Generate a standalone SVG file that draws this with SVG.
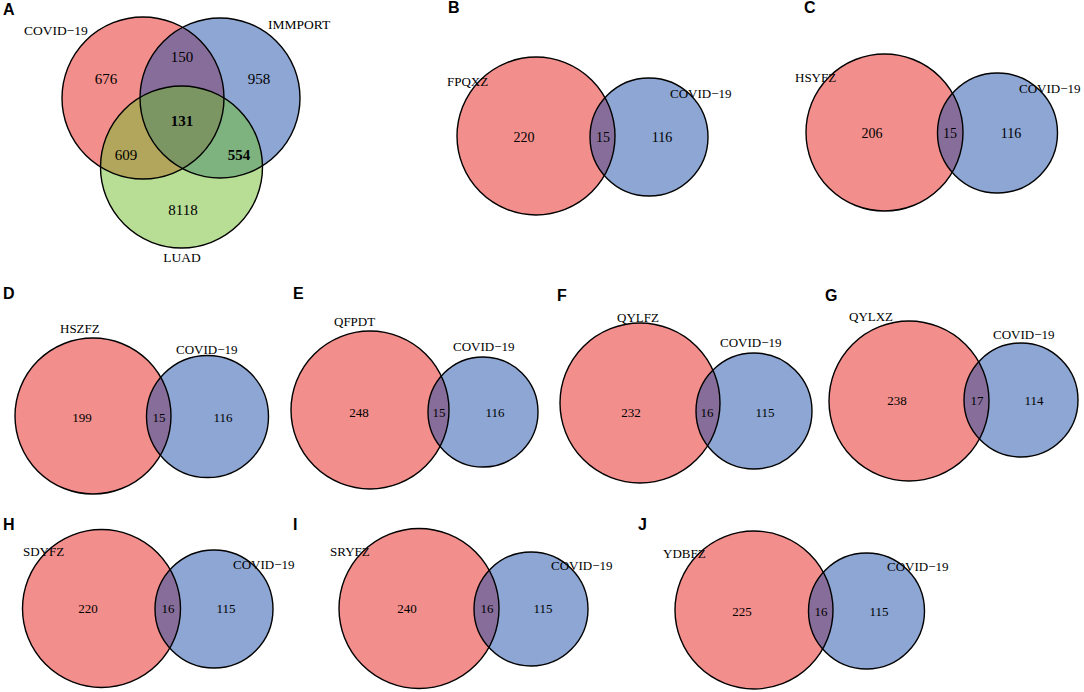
<svg xmlns="http://www.w3.org/2000/svg" width="1084" height="692" viewBox="0 0 1084 692">
<style>
.r{fill:#E51D19;fill-opacity:0.5}
.b{fill:#1B4DA7;fill-opacity:0.5}
.g{fill:#6FBD29;fill-opacity:0.5}
.o{fill:none;stroke:#000;stroke-width:1.4}
text{font-family:"Liberation Serif","Times New Roman",serif;fill:#000}
.n{font-size:13px;text-anchor:middle}
.nb{font-size:14px;text-anchor:middle}
.na{font-size:15px;text-anchor:middle}
.l{font-size:13px}
.la{font-size:13.5px}
.p{font-family:"Liberation Sans",Arial,sans-serif;font-weight:bold;font-size:16px}
.bold{font-weight:bold}
</style>
<rect width="1084" height="692" fill="#fff"/>

<g id="panelA">
<text class="p" x="3" y="15">A</text>
<g id="A-COVID"><circle class="r" cx="143" cy="98" r="81"/></g>
<g id="A-IMMPORT"><circle class="b" cx="220" cy="98" r="80"/></g>
<g id="A-LUAD"><circle class="g" cx="181.5" cy="167" r="81"/></g>
<circle class="o" cx="143" cy="98" r="81"/>
<circle class="o" cx="220" cy="98" r="80"/>
<circle class="o" cx="181.5" cy="167" r="81"/>
<text class="la" x="24" y="35">COVID−19</text>
<text class="la" x="268" y="29">IMMPORT</text>
<text class="la" x="182" y="262" text-anchor="middle">LUAD</text>
<text class="na" x="106" y="84">676</text>
<text class="na" x="182" y="62">150</text>
<text class="na" x="259" y="84">958</text>
<text class="na bold" x="182" y="126">131</text>
<text class="na" x="126" y="160">609</text>
<text class="na bold" x="239" y="160">554</text>
<text class="na" x="183" y="215">8118</text>
</g>

<g id="panelB">
<text class="p" x="448" y="13">B</text>
<g id="B-FPQXZ"><circle class="r" cx="536" cy="136" r="79"/></g>
<g id="B-COVID"><circle class="b" cx="649" cy="137" r="59"/></g>
<circle class="o" cx="536" cy="136" r="79"/>
<circle class="o" cx="649" cy="137" r="59"/>
<text class="l" x="447" y="86">FPQXZ</text>
<text class="l" x="670" y="98">COVID−19</text>
<text class="nb" x="524" y="142">220</text>
<text class="nb" x="603" y="142">15</text>
<text class="nb" x="662" y="142">116</text>
</g>

<g id="panelC">
<text class="p" x="804" y="13">C</text>
<g id="C-HSYFZ"><circle class="r" cx="884.5" cy="132.5" r="78.5"/></g>
<g id="C-COVID"><circle class="b" cx="997.5" cy="133" r="60"/></g>
<circle class="o" cx="884.5" cy="132.5" r="78.5"/>
<circle class="o" cx="997.5" cy="133" r="60"/>
<text class="l" x="795" y="82">HSYFZ</text>
<text class="l" x="1019" y="93">COVID−19</text>
<text class="nb" x="872" y="138">206</text>
<text class="nb" x="950" y="138">15</text>
<text class="nb" x="1011" y="138">116</text>
</g>

<g id="panelD">
<text class="p" x="3" y="299">D</text>
<g id="D-HSZFZ"><circle class="r" cx="93" cy="416" r="78"/></g>
<g id="D-COVID"><circle class="b" cx="207.5" cy="416.5" r="61"/></g>
<circle class="o" cx="93" cy="416" r="78"/>
<circle class="o" cx="207.5" cy="416.5" r="61"/>
<text class="l" x="60" y="333">HSZFZ</text>
<text class="l" x="176" y="354">COVID−19</text>
<text class="n" x="82" y="422">199</text>
<text class="n" x="159" y="422">15</text>
<text class="n" x="223" y="422">116</text>
</g>

<g id="panelE">
<text class="p" x="293" y="299">E</text>
<g id="E-QFPDT"><circle class="r" cx="370" cy="410" r="79"/></g>
<g id="E-COVID"><circle class="b" cx="483" cy="412" r="55"/></g>
<circle class="o" cx="370" cy="410" r="79"/>
<circle class="o" cx="483" cy="412" r="55"/>
<text class="l" x="334" y="326">QFPDT</text>
<text class="l" x="453" y="351">COVID−19</text>
<text class="n" x="359" y="417">248</text>
<text class="n" x="439" y="417">15</text>
<text class="n" x="495" y="417">116</text>
</g>

<g id="panelF">
<text class="p" x="557" y="301">F</text>
<g id="F-QYLFZ"><circle class="r" cx="640" cy="403" r="80"/></g>
<g id="F-COVID"><circle class="b" cx="754" cy="411" r="58"/></g>
<circle class="o" cx="640" cy="403" r="80"/>
<circle class="o" cx="754" cy="411" r="58"/>
<text class="l" x="617" y="322">QYLFZ</text>
<text class="l" x="720" y="347">COVID−19</text>
<text class="n" x="631" y="417">232</text>
<text class="n" x="707" y="417">16</text>
<text class="n" x="765" y="417">115</text>
</g>

<g id="panelG">
<text class="p" x="825" y="301">G</text>
<g id="G-QYLXZ"><circle class="r" cx="909" cy="401" r="80"/></g>
<g id="G-COVID"><circle class="b" cx="1021" cy="400" r="57"/></g>
<circle class="o" cx="909" cy="401" r="80"/>
<circle class="o" cx="1021" cy="400" r="57"/>
<text class="l" x="849" y="321">QYLXZ</text>
<text class="l" x="993" y="339">COVID−19</text>
<text class="n" x="897" y="405">238</text>
<text class="n" x="977" y="405">17</text>
<text class="n" x="1034" y="405">114</text>
</g>

<g id="panelH">
<text class="p" x="3" y="530">H</text>
<g id="H-SDYFZ"><circle class="r" cx="101.5" cy="608.5" r="79"/></g>
<g id="H-COVID"><circle class="b" cx="214" cy="609" r="59"/></g>
<circle class="o" cx="101.5" cy="608.5" r="79"/>
<circle class="o" cx="214" cy="609" r="59"/>
<text class="l" x="23" y="556">SDYFZ</text>
<text class="l" x="233" y="569">COVID−19</text>
<text class="n" x="88" y="613">220</text>
<text class="n" x="168" y="613">16</text>
<text class="n" x="226" y="613">115</text>
</g>

<g id="panelI">
<text class="p" x="293" y="530">I</text>
<g id="I-SRYFZ"><circle class="r" cx="419" cy="608.5" r="80"/></g>
<g id="I-COVID"><circle class="b" cx="531" cy="609" r="57"/></g>
<circle class="o" cx="419" cy="608.5" r="80"/>
<circle class="o" cx="531" cy="609" r="57"/>
<text class="l" x="330" y="556">SRYFZ</text>
<text class="l" x="551" y="570">COVID−19</text>
<text class="n" x="407" y="613">240</text>
<text class="n" x="487" y="613">16</text>
<text class="n" x="543" y="613">115</text>
</g>

<g id="panelJ">
<text class="p" x="638" y="530">J</text>
<g id="J-YDBFZ"><circle class="r" cx="754" cy="610" r="79"/></g>
<g id="J-COVID"><circle class="b" cx="866.5" cy="611" r="58"/></g>
<circle class="o" cx="754" cy="610" r="79"/>
<circle class="o" cx="866.5" cy="611" r="58"/>
<text class="l" x="663" y="558">YDBFZ</text>
<text class="l" x="887" y="571">COVID−19</text>
<text class="n" x="742" y="616">225</text>
<text class="n" x="821" y="616">16</text>
<text class="n" x="879" y="616">115</text>
</g>
</svg>
